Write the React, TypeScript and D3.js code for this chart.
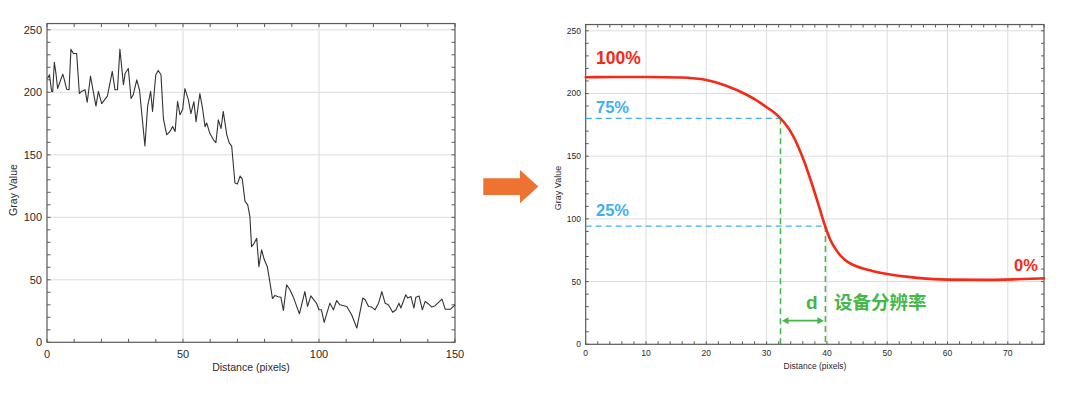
import React from "react";
import * as d3 from "d3";

// ---- Left chart: raw line profile ----
const profileX = [0.2, 0.9, 1.7, 2.1, 2.7, 3.3, 3.9, 5.8, 6.4, 7.2, 8.1, 8.8, 9.7, 10.9, 11.9, 12.7, 14, 14.8, 16, 17, 18, 18.9, 20.1, 22.2, 24, 25, 25.9, 26.8, 28.1, 28.7, 29.9, 30.9, 31.7, 33, 34, 36, 37, 38.1, 38.8, 40, 40.9, 41.9, 42.8, 44, 45.2, 46.2, 47.1, 48, 48.9, 49.9,
  50.7, 52, 52.9, 54, 54.8, 56.2, 57.2, 58.1, 58.7, 59.9, 61.2, 62.1, 63, 64, 64.8, 66.1, 67, 67.9, 69.1, 70, 71, 71.8, 72.8, 73.8, 74.6, 75.2, 76.1, 77.1, 77.9, 78.9, 79.9, 81, 82, 82.9, 83.8, 85,
  86, 86.9, 88.1, 89.3, 90.5, 91.8, 92.8, 94.8, 95.8, 97, 99.1, 100, 100.9, 101.9, 104, 105.3, 106.5, 107.7, 110.2, 112, 113.9, 116.1, 117, 118.2, 119.4, 120.6, 121.9, 123.1, 124.3, 125.5, 127.1, 128.3, 129.4, 130.1, 131.9, 132.6, 133.8, 134.9, 135.6, 136.8, 138, 139, 140.2, 141.5, 142.7, 145.2, 146.4, 148.3, 150];
const profileY = [211, 214, 200.7, 200.5, 224, 215, 203, 214.5, 210, 202.5, 202, 234.5, 231, 231, 199, 200.7, 202, 192, 213, 200.7, 189, 200.7, 191, 197, 216.7, 202, 202, 234.5, 206, 215, 219, 195, 198, 210, 202, 157, 188.7, 200.7, 184.7, 214, 217.5, 214, 179, 166, 168.7, 172.7, 168.7, 192.7, 182, 186.5,
  203, 194, 183, 192.5, 176.5, 199, 187, 172.5, 175.5, 167, 162, 159.7, 178, 171, 184.7, 166, 159.5, 157, 127.5, 126.7, 133, 130.5, 112.7, 110, 100.5, 76.5, 79, 83.2, 60.5, 74, 66, 60.5, 47.4, 35, 37.5, 36.5,
  36, 25.5, 46, 42, 36.5, 28.7, 22.8, 40.6, 28.7, 37.2, 31.2, 26, 26, 15.9, 31.3, 26, 33.4, 30, 28.7, 22, 11.4, 35.4, 34, 28.7, 28.2, 26, 31.3, 40.6, 31.3, 30, 24, 26, 31.3, 27.4, 38, 35.4, 36.6, 27.4, 36, 37, 26, 32.6, 30.8, 28.2, 29.3, 34.6, 26.5, 26.5, 30];
const leftXTicks = [0, 50, 100, 150];
const leftYTicks = [0, 50, 100, 150, 200, 250];

// ---- Right chart: smoothed edge profile ----
const edgeX = [0, 5, 10, 15.7, 20, 23.4, 26.7, 28.5, 30, 31.2, 32.3, 33.3, 34.3, 35.3, 36.3, 37.3, 38.5, 39.7, 40.5, 41.5, 42.5, 43.5, 45, 47.5, 50, 55, 60, 65.5, 71, 76];
const edgeY = [213, 213.2, 213.2, 212.7, 210.8, 206, 199, 194, 189, 185, 180.2, 174.5, 167, 157, 145, 131, 113, 94.3, 84, 75.5, 69.5, 65.5, 62, 58.5, 56, 53, 51.6, 51.4, 51.8, 52.6];
const rightXTicks = [0, 10, 20, 30, 40, 50, 60, 70];
const rightYTicks = [0, 50, 100, 150, 200, 250];
const level75 = 180.2;
const level25 = 94.3;
const x75 = 32.3;
const x25 = 39.75;
const labels = { top: "100%", q75: "75%", q25: "25%", bottom: "0%", d: "d", res: "设备分辨率" };

const FONT = "'Liberation Sans', Arial, Helvetica, sans-serif";
const FRAME = "#5a5a5a";
const GRID = "#dcdcdc";

function Frame({ x, y, minorX, minorY, tickLen, xTicks, yTicks, xGrid, yGrid, fontSize, xLabelY, yLabelX }: any) {
  const [x0, x1] = x.range();
  const [y0, y1] = y.range();
  return (
    <g>
      {xGrid.map((t: number) => (
        <line key={"gx" + t} x1={x(t)} x2={x(t)} y1={y0} y2={y1} stroke={GRID} strokeWidth={1} />
      ))}
      {yGrid.map((t: number) => (
        <line key={"gy" + t} x1={x0} x2={x1} y1={y(t)} y2={y(t)} stroke={GRID} strokeWidth={1} />
      ))}
      {minorX.map((t: number) => (
        <g key={"mx" + t}>
          <line x1={x(t)} x2={x(t)} y1={y0} y2={y0 - tickLen} stroke={FRAME} strokeWidth={1} />
          <line x1={x(t)} x2={x(t)} y1={y1} y2={y1 + tickLen} stroke={FRAME} strokeWidth={1} />
        </g>
      ))}
      {minorY.map((t: number) => (
        <g key={"my" + t}>
          <line x1={x0} x2={x0 + tickLen} y1={y(t)} y2={y(t)} stroke={FRAME} strokeWidth={1} />
          <line x1={x1} x2={x1 - tickLen} y1={y(t)} y2={y(t)} stroke={FRAME} strokeWidth={1} />
        </g>
      ))}
      <rect x={x0} y={y1} width={x1 - x0} height={y0 - y1} fill="none" stroke={FRAME} strokeWidth={1.2} />
      {xTicks.map((t: number) => (
        <text key={"tx" + t} x={x(t)} y={xLabelY} textAnchor="middle" fontSize={fontSize} fill="#2a2a2a" fontFamily={FONT}>
          {t}
        </text>
      ))}
      {yTicks.map((t: number) => (
        <text key={"ty" + t} x={yLabelX} y={y(t)} dy="0.35em" textAnchor="end" fontSize={fontSize} fill="#2a2a2a" fontFamily={FONT}>
          {t}
        </text>
      ))}
    </g>
  );
}

export default function App() {
  const xL = d3.scaleLinear().domain([0, 150]).range([47, 455]);
  const yL = d3.scaleLinear().domain([0, 255]).range([342.3, 342.3 - 255 * 1.25]);
  const xR = d3.scaleLinear().domain([0, 76]).range([585.7, 1044]);
  const yR = d3.scaleLinear().domain([0, 255]).range([344.3, 344.3 - 255 * 1.254]);

  const profile = profileX.map((v, i) => [v, profileY[i]] as [number, number]);
  const edge = edgeX.map((v, i) => [v, edgeY[i]] as [number, number]);

  const lineL = d3.line<[number, number]>().x((d) => xL(d[0])).y((d) => yL(d[1]));
  const lineR = d3
    .line<[number, number]>()
    .x((d) => xR(d[0]))
    .y((d) => yR(d[1]))
    .curve(d3.curveMonotoneX);

  const minorL = d3.range(0, 151, 10);
  const minorLY = d3.range(0, 256, 10);
  const minorR = d3.range(0, 77, 2);
  const minorRY = d3.range(0, 256, 10);

  const blue = "#3fb0f2";
  const green = "#45b649";
  const red = "#f42a17";
  const arrowY = 320.7;

  return (
    <svg width={1080} height={393} style={{ position: "absolute", left: 0, top: 0, background: "#fff" }}>
      <rect width={1080} height={393} fill="#fff" />
      {/* Left chart */}
      <Frame
        x={xL}
        y={yL}
        minorX={minorL}
        minorY={minorLY}
        tickLen={3.5}
        xTicks={leftXTicks}
        yTicks={leftYTicks}
        xGrid={[50, 100]}
        yGrid={[50, 100, 150, 200, 250]}
        fontSize={11}
        xLabelY={358}
        yLabelX={42}
      />
      <path d={lineL(profile) || ""} fill="none" stroke="#333" strokeWidth={1.1} strokeLinejoin="round" />
      <text x={251} y={371} textAnchor="middle" fontSize={10.5} fill="#2a2a2a" fontFamily={FONT}>
        Distance (pixels)
      </text>
      <text transform="translate(17,190) rotate(-90)" textAnchor="middle" fontSize={10.5} fill="#2a2a2a" fontFamily={FONT}>
        Gray Value
      </text>

      {/* Orange arrow */}
      <polygon points="483.3,178.3 520,178.3 520,170 538.3,186.6 520,203.3 520,195 483.3,195" fill="#ee7232" />

      {/* Right chart */}
      <Frame
        x={xR}
        y={yR}
        minorX={minorR}
        minorY={minorRY}
        tickLen={3}
        xTicks={rightXTicks}
        yTicks={rightYTicks}
        xGrid={[10, 20, 30, 40, 50, 60, 70]}
        yGrid={[50, 100, 150, 200, 250]}
        fontSize={8.5}
        xLabelY={356}
        yLabelX={581}
      />
      <text x={815} y={369} textAnchor="middle" fontSize={8.5} fill="#2a2a2a" fontFamily={FONT}>
        Distance (pixels)
      </text>
      <text transform="translate(561,188) rotate(-90)" textAnchor="middle" fontSize={9} fill="#2a2a2a" fontFamily={FONT}>
        Gray Value
      </text>

      {/* dashed guides */}
      <line x1={xR(0)} x2={xR(x75)} y1={yR(level75)} y2={yR(level75)} stroke={blue} strokeWidth={1.3} strokeDasharray="6,4" />
      <line x1={xR(0)} x2={xR(x25)} y1={yR(level25)} y2={yR(level25)} stroke={blue} strokeWidth={1.3} strokeDasharray="6,4" />
      <line x1={xR(x75)} x2={xR(x75)} y1={yR(level75)} y2={yR(0)} stroke={green} strokeWidth={1.5} strokeDasharray="6,4" />
      <line x1={xR(x25)} x2={xR(x25)} y1={yR(level25)} y2={yR(0)} stroke={green} strokeWidth={1.5} strokeDasharray="6,4" />

      <path d={lineR(edge) || ""} fill="none" stroke={red} strokeWidth={2.6} strokeLinecap="round" strokeLinejoin="round" />

      {/* double arrow */}
      <line x1={xR(x75) + 5} x2={xR(x25) - 5} y1={arrowY} y2={arrowY} stroke={green} strokeWidth={1.8} />
      <polygon points={`${xR(x75) + 1.5},${arrowY} ${xR(x75) + 8},${arrowY - 3.5} ${xR(x75) + 8},${arrowY + 3.5}`} fill={green} />
      <polygon points={`${xR(x25) - 1.5},${arrowY} ${xR(x25) - 8},${arrowY - 3.5} ${xR(x25) - 8},${arrowY + 3.5}`} fill={green} />

      {/* annotation texts */}
      <text x={596} y={63.5} fontSize={17.5} fontWeight="bold" fill={red} fontFamily={FONT}>{labels.top}</text>
      <text x={596} y={113} fontSize={16.5} fontWeight="bold" fill={blue} fontFamily={FONT}>{labels.q75}</text>
      <text x={596} y={215.5} fontSize={16.5} fontWeight="bold" fill={blue} fontFamily={FONT}>{labels.q25}</text>
      <text x={1014} y={271} fontSize={16.5} fontWeight="bold" fill={red} fontFamily={FONT}>{labels.bottom}</text>
      <text x={806} y={308.5} fontSize={19} fontWeight="bold" fill={green} fontFamily={FONT}>{labels.d}</text>
      <text x={834} y={308.5} fontSize={18.5} fontWeight="bold" fill={green} fontFamily="'Noto Sans CJK SC', sans-serif">{labels.res}</text>
    </svg>
  );
}
